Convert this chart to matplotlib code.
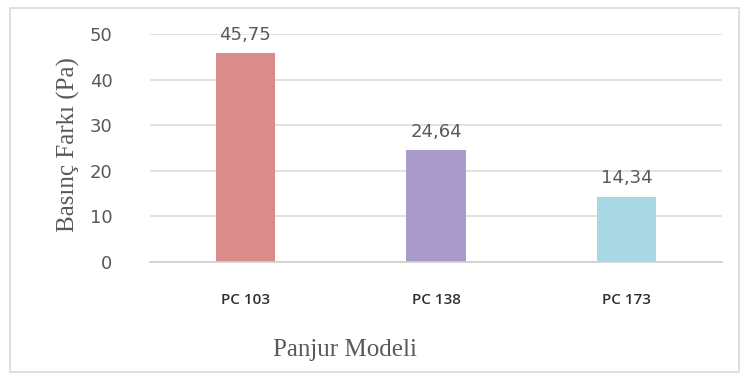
import matplotlib.pyplot as plt
from matplotlib.patches import Rectangle

# data
models = ['PC 103', 'PC 138', 'PC 173']
pressure_diff = [45.75, 24.64, 14.34]
bar_colors = ['#D98C8A', '#A99BC9', '#A9D7E3']
yticks = [0, 10, 20, 30, 40, 50]

W, H = 749, 375
fig = plt.figure(figsize=(W / 100, H / 100), dpi=100)
fig.patch.set_facecolor('white')

# outer chart frame
fig.patches.append(Rectangle((10 / W, 1 - 372 / H), 729 / W, 364 / H,
                             transform=fig.transFigure, fill=False,
                             edgecolor='#D9D9D9', linewidth=1.2))

ax = fig.add_axes([150 / W, 1 - 262 / H, 572 / W, 228 / H])

x = range(len(models))
bars = ax.bar(x, pressure_diff, width=0.31, color=bar_colors, zorder=2)

for xi, v in zip(x, pressure_diff):
    ax.text(xi, v + 2.0, ('%.2f' % v).replace('.', ','), ha='center',
            va='bottom', fontsize=13, color='#595959', family='DejaVu Sans')

ax.set_xlim(-0.5, len(models) - 0.5)
ax.set_ylim(0, 50)
ax.set_yticks(yticks)
ax.set_yticklabels([str(t) for t in yticks], fontsize=13, color='#595959',
                   family='DejaVu Sans')
ax.set_xticks(list(x))
ax.set_xticklabels(models, fontsize=11, color='#303030', family='Open Sans',
                   fontweight='semibold')
ax.tick_params(axis='both', length=0)
ax.tick_params(axis='y', pad=27)
ax.tick_params(axis='x', pad=22)

ax.grid(axis='y', color='#D9D9D9', linewidth=1.1, zorder=0)
for s in ['top', 'right', 'left']:
    ax.spines[s].set_visible(False)
ax.spines['bottom'].set_color('#D0D0D0')
ax.spines['bottom'].set_linewidth(1.2)

fig.text(68 / W, 1 - 145 / H, 'Basınç Farkı (Pa)', rotation=90, ha='center',
         va='center', fontsize=18, color='#595959', family='Liberation Serif')
fig.text(345 / W, 1 - 350 / H, 'Panjur Modeli', ha='center', va='center',
         fontsize=18, color='#595959', family='Liberation Serif')

fig.savefig('out.png', dpi=100)
